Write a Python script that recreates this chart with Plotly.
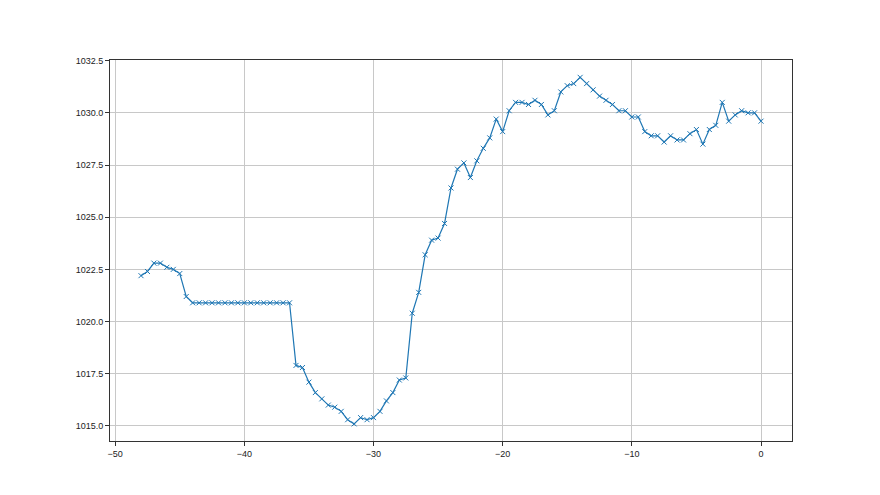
import plotly.graph_objects as go

x_vals = [-48.0, -47.5, -47.0, -46.5, -46.0, -45.5, -45.0, -44.5, -44.0, -43.5,
          -43.0, -42.5, -42.0, -41.5, -41.0, -40.5, -40.0, -39.5, -39.0, -38.5,
          -38.0, -37.5, -37.0, -36.5, -36.0, -35.5, -35.0, -34.5, -34.0, -33.5,
          -33.0, -32.5, -32.0, -31.5, -31.0, -30.5, -30.0, -29.5, -29.0, -28.5,
          -28.0, -27.5, -27.0, -26.5, -26.0, -25.5, -25.0, -24.5, -24.0, -23.5,
          -23.0, -22.5, -22.0, -21.5, -21.0, -20.5, -20.0, -19.5, -19.0, -18.5,
          -18.0, -17.5, -17.0, -16.5, -16.0, -15.5, -15.0, -14.5, -14.0, -13.5,
          -13.0, -12.5, -12.0, -11.5, -11.0, -10.5, -10.0, -9.5, -9.0, -8.5,
          -8.0, -7.5, -7.0, -6.5, -6.0, -5.5, -5.0, -4.5, -4.0, -3.5,
          -3.0, -2.5, -2.0, -1.5, -1.0, -0.5, 0.0]

pressure = [1022.2, 1022.4, 1022.8, 1022.8, 1022.6, 1022.5, 1022.3, 1021.2, 1020.9, 1020.9,
            1020.9, 1020.9, 1020.9, 1020.9, 1020.9, 1020.9, 1020.9, 1020.9, 1020.9, 1020.9,
            1020.9, 1020.9, 1020.9, 1020.9, 1017.9, 1017.8, 1017.1, 1016.6, 1016.3, 1016.0,
            1015.9, 1015.7, 1015.3, 1015.1, 1015.4, 1015.3, 1015.4, 1015.7, 1016.2, 1016.6,
            1017.2, 1017.3, 1020.4, 1021.4, 1023.2, 1023.9, 1024.0, 1024.7, 1026.4, 1027.3,
            1027.6, 1026.9, 1027.7, 1028.3, 1028.8, 1029.7, 1029.1, 1030.1, 1030.5, 1030.5,
            1030.4, 1030.6, 1030.4, 1029.9, 1030.1, 1031.0, 1031.3, 1031.4, 1031.7, 1031.4,
            1031.1, 1030.8, 1030.6, 1030.4, 1030.1, 1030.1, 1029.8, 1029.8, 1029.1, 1028.9,
            1028.9, 1028.6, 1028.9, 1028.7, 1028.7, 1029.0, 1029.2, 1028.5, 1029.2, 1029.4,
            1030.5, 1029.6, 1029.9, 1030.1, 1030.0, 1030.0, 1029.6]

x_ticks = [-50, -40, -30, -20, -10, 0]
y_ticks = [1015.0, 1017.5, 1020.0, 1022.5, 1025.0, 1027.5, 1030.0, 1032.5]

blue = "#1f77b4"

fig = go.Figure()
fig.add_trace(go.Scatter(
    x=x_vals, y=pressure, mode="lines+markers",
    line=dict(color=blue, width=1.2),
    marker=dict(symbol="x-thin", size=5, color=blue, line=dict(color=blue, width=1)),
    showlegend=False,
))

axis_common = dict(
    showline=True, linecolor="#333333", linewidth=1, mirror=True,
    showgrid=True, gridcolor="#c8c8c8", gridwidth=1,
    ticks="outside", ticklen=4, tickcolor="#333333", tickwidth=1,
    zeroline=False,
    tickfont=dict(family="Liberation Sans, Arial, sans-serif", size=9, color="#222222"),
)

fig.update_layout(
    width=880, height=495,
    margin=dict(l=102, r=96, t=52, b=62),
    paper_bgcolor="white", plot_bgcolor="white",
    xaxis=dict(range=[-50.4, 2.4], tickvals=x_ticks, **axis_common),
    yaxis=dict(range=[1014.28, 1032.53], tickvals=y_ticks, tickformat=".1f", **axis_common),
)

fig.write_html("out.html")
